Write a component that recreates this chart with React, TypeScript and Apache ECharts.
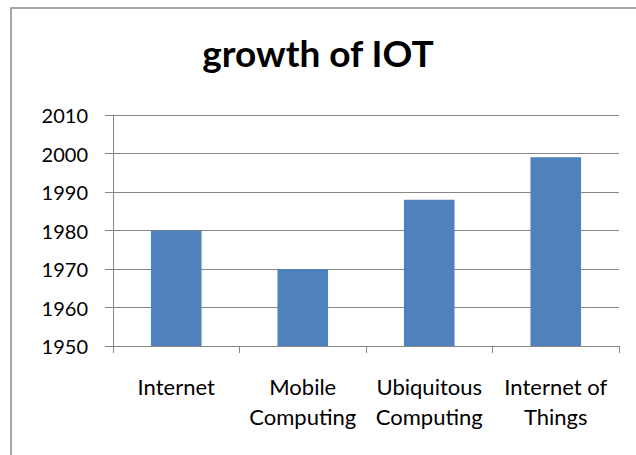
import React, { useEffect, useRef } from "react";
import * as echarts from "echarts";

const categories = ["Internet", "Mobile\nComputing", "Ubiquitous\nComputing", "Internet of\nThings"];
const values = [1980, 1970, 1988, 1999];
const yMin = 1950;
const yMax = 2010;
const yStep = 10;

export default function App() {
  const ref = useRef<HTMLDivElement>(null);
  useEffect(() => {
    document.body.style.margin = "0";
    const chart = echarts.init(ref.current!, null, { renderer: "svg" });
    const font = "Lato, 'Open Sans', sans-serif";
    chart.setOption({
      animation: false,
      backgroundColor: "#ffffff",
      title: {
        text: "growth of IOT",
        left: "center",
        top: 29,
        textStyle: { fontFamily: font, fontWeight: "bold", fontSize: 37, color: "#000" },
      },
      graphic: [
        {
          type: "rect",
          shape: { x: 11, y: 8, width: 700, height: 600 },
          style: { fill: "none", stroke: "#8a8a8a", lineWidth: 1.5 },
          silent: true,
        },
      ],
      grid: { left: 113, top: 115, right: 17, bottom: 109 },
      xAxis: {
        type: "category",
        data: categories,
        axisLine: { lineStyle: { color: "#868686", width: 1 } },
        axisTick: { show: true, length: 7, inside: false, lineStyle: { color: "#868686" } },
        axisLabel: {
          fontFamily: font,
          fontSize: 22,
          color: "#000",
          margin: 25,
          lineHeight: 30,
          interval: 0,
        },
      },
      yAxis: {
        type: "value",
        min: yMin,
        max: yMax,
        interval: yStep,
        axisLine: { show: true, lineStyle: { color: "#868686", width: 1 } },
        axisTick: { show: true, length: 8, lineStyle: { color: "#868686" } },
        splitLine: { lineStyle: { color: "#868686", width: 1 } },
        axisLabel: {
          fontFamily: font,
          fontSize: 20,
          color: "#000",
          margin: 25,
          formatter: (v: number) => String(v),
        },
      },
      series: [
        {
          type: "bar",
          data: values,
          barWidth: "40%",
          itemStyle: { color: "#4F81BD" },
        },
      ],
    });
    return () => chart.dispose();
  }, []);
  return <div ref={ref} style={{ width: 636, height: 455 }} />;
}
